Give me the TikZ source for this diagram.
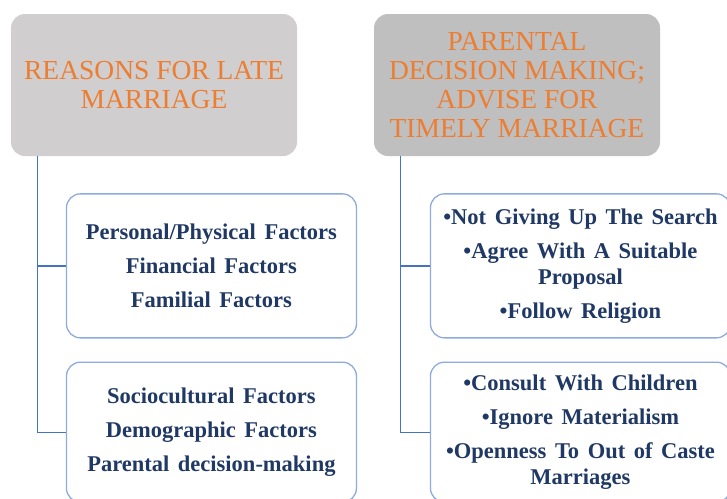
\documentclass[tikz,border=0pt]{standalone}
\usepackage{fontspec}
\setmainfont{Liberation Serif}
\newfontfamily\chartserif{Liberation Serif}
\usepackage{tikz}
\usetikzlibrary{positioning}
\definecolor{headorange}{HTML}{ED7D31}
\definecolor{headgrayA}{HTML}{D0CECE}
\definecolor{headgrayB}{HTML}{BFBFBF}
\definecolor{itemnavy}{HTML}{1F3864}
\definecolor{boxblue}{HTML}{8FAADC}
\definecolor{trunkblue}{HTML}{4472C4}
\newcommand\widewords{\spaceskip=0.38em\relax}
\tikzset{
      headbox/.style = {rounded corners=14pt, minimum width=286pt, minimum height=142pt,
                        inner sep=0pt, align=center, text=headorange,
                        font=\chartserif\fontsize{27.5}{29}\selectfont},
      itembox/.style = {draw=boxblue, line width=1.3pt, rounded corners=14pt, inner sep=0pt,
                        align=center, text=itemnavy,
                        font=\chartserif\fontsize{22.5}{26}\selectfont\bfseries\widewords},
      trunk/.style   = {trunkblue, line width=1.3pt},
    }

\begin{document}
\begin{tikzpicture}[x=1pt,y=-1pt]
        \useasboundingbox (0,0) rectangle (727,498);
        % the two headings
        \node [headbox, fill=headgrayA] (reasons) at (154,85) {REASONS FOR LATE\\MARRIAGE};
        \node [headbox, fill=headgrayB] (advise) at (517,85)
              {PARENTAL\\DECISION MAKING;\\ADVISE FOR\\TIMELY MARRIAGE};

        % boxes under the left heading
        \node [itembox, minimum width=290pt, minimum height=144pt,
               below right=37pt and 55pt of reasons.south west] (r1)
              {Personal/Physical Factors\\[8pt]Financial Factors\\[8pt]Familial Factors};
        \node [itembox, minimum width=290pt, minimum height=140pt,
               below=23pt of r1] (r2)
              {Sociocultural Factors\\[8pt]Demographic Factors\\[8pt]Parental decision-making};

        % boxes under the right heading
        \node [itembox, minimum width=300pt, minimum height=144pt,
               below right=37pt and 56pt of advise.south west] (a1)
              {•Not Giving Up The Search\\[8pt]•Agree With A Suitable\\Proposal\\[8pt]•Follow Religion};
        \node [itembox, minimum width=300pt, minimum height=140pt,
               below=23pt of a1] (a2)
              {•Consult With Children\\[8pt]•Ignore Materialism\\[8pt]•Openness To Out of Caste\\Marriages};

        \draw [trunk] ([xshift=27pt]reasons.south west) |- (r1.west);
        \draw [trunk] ([xshift=27pt]reasons.south west) |- (r2.west);
        \draw [trunk] ([xshift=27pt]advise.south west) |- (a1.west);
        \draw [trunk] ([xshift=27pt]advise.south west) |- (a2.west);
\end{tikzpicture}
\end{document}
